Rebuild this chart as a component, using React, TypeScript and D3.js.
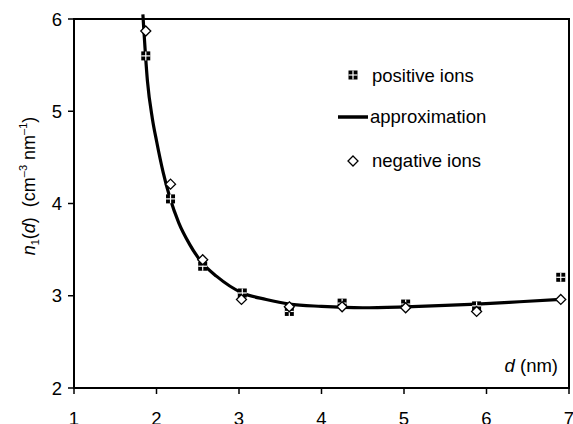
import * as d3 from "d3";

const posD = [1.87, 2.17, 2.56, 3.04, 3.61, 4.25, 5.02, 5.88, 6.9];
const posN = [5.6, 4.05, 3.32, 3.03, 2.83, 2.92, 2.91, 2.89, 3.2];
const negD = [1.87, 2.17, 2.56, 3.03, 3.61, 4.25, 5.02, 5.88, 6.9];
const negN = [5.87, 4.21, 3.39, 2.96, 2.88, 2.88, 2.87, 2.83, 2.96];
const fitD = [1.835, 1.89, 1.95, 2.0, 2.08, 2.16, 2.27, 2.4, 2.55, 2.73, 3.04, 3.33, 3.61, 4.0, 4.5, 5.02, 5.5, 5.88, 6.4, 6.9];
const fitN = [6.05, 5.33, 4.92, 4.68, 4.34, 4.07, 3.79, 3.56, 3.36, 3.21, 3.03, 2.96, 2.91, 2.885, 2.87, 2.88, 2.895, 2.91, 2.935, 2.96];
const xTicks = [1, 2, 3, 4, 5, 6, 7];
const yTicks = [2, 3, 4, 5, 6];

const W = 573;
const H = 424;
const m = { left: 74, right: 4, top: 19, bottom: 36 };

export default function App() {
  const x = d3.scaleLinear().domain([1, 7]).range([m.left, W - m.right]);
  const y = d3.scaleLinear().domain([2, 6]).range([H - m.bottom, m.top]);
  const line = d3
    .line<number>()
    .x((d) => x(d))
    .y((_, i) => y(fitN[i]))
    .curve(d3.curveMonotoneX);
  const font = "Liberation Sans, Arial, sans-serif";
  const x0 = x(1);
  const x1 = x(7);
  const y0 = y(2);
  const y1 = y(6);

  const square = (cx: number, cy: number, k: string) => (
    <g key={k}>
      <rect x={cx - 4.5} y={cy - 4.5} width={9} height={9} fill="#000" />
      <line x1={cx - 4.5} x2={cx + 4.5} y1={cy} y2={cy} stroke="#fff" strokeWidth={1.2} />
      <line x1={cx} x2={cx} y1={cy - 4.5} y2={cy + 4.5} stroke="#fff" strokeWidth={1.2} />
    </g>
  );
  const diamond = (cx: number, cy: number, k: string) => (
    <path
      key={k}
      d={`M${cx},${cy - 5}L${cx + 5},${cy}L${cx},${cy + 5}L${cx - 5},${cy}Z`}
      fill="#fff"
      stroke="#000"
      strokeWidth={1.3}
    />
  );

  return (
    <svg
      width={W}
      height={H}
      style={{ position: "absolute", left: 0, top: 0, background: "#fff" }}
      fontFamily={font}
    >
      <rect x={x0} y={y1} width={x1 - x0} height={y0 - y1} fill="none" stroke="#000" strokeWidth={2} />
      {xTicks.map((t) => (
        <g key={"x" + t}>
          <line x1={x(t)} x2={x(t)} y1={y0} y2={y0 + 6} stroke="#000" strokeWidth={1.5} />
          <text x={x(t)} y={425} textAnchor="middle" fontSize={18.5}>
            {t}
          </text>
        </g>
      ))}
      {yTicks.map((t) => (
        <g key={"y" + t}>
          <line x1={x0 - 6} x2={x0} y1={y(t)} y2={y(t)} stroke="#000" strokeWidth={1.5} />
          <text x={x0 - 12} y={y(t) + 6.5} textAnchor="end" fontSize={18.5}>
            {t}
          </text>
        </g>
      ))}
      <text
        transform={`translate(35,186) rotate(-90)`}
        textAnchor="middle"
        fontSize={18}
      >
        <tspan fontStyle="italic">n</tspan>
        <tspan fontSize={11} dy={4}>1</tspan>
        <tspan dy={-4}>(</tspan>
        <tspan fontStyle="italic">d</tspan>
        <tspan>){"\u00a0\u00a0"}(cm</tspan>
        <tspan fontSize={11} dy={-8}>–3</tspan>
        <tspan dy={8}>{"\u00a0"}nm</tspan>
        <tspan fontSize={11} dy={-8}>–1</tspan>
        <tspan dy={8}>)</tspan>
      </text>
      <text x={558} y={372} textAnchor="end" fontSize={18.5}>
        <tspan fontStyle="italic">d</tspan>
        <tspan>{"\u00a0"}(nm)</tspan>
      </text>
      <path d={line(fitD) ?? ""} fill="none" stroke="#000" strokeWidth={3.2} />
      {posD.map((d, i) => square(x(d), y(posN[i]), "p" + i))}
      {negD.map((d, i) => diamond(x(d), y(negN[i]), "n" + i))}
      {square(353, 75, "lp")}
      <text x={372} y={82} fontSize={18.5}>positive ions</text>
      <line x1={338} x2={368} y1={117} y2={117} stroke="#000" strokeWidth={3.5} />
      <text x={370} y={123} fontSize={18.5}>approximation</text>
      {diamond(353, 161, "ln")}
      <text x={372} y={167} fontSize={18.5}>negative ions</text>
    </svg>
  );
}
